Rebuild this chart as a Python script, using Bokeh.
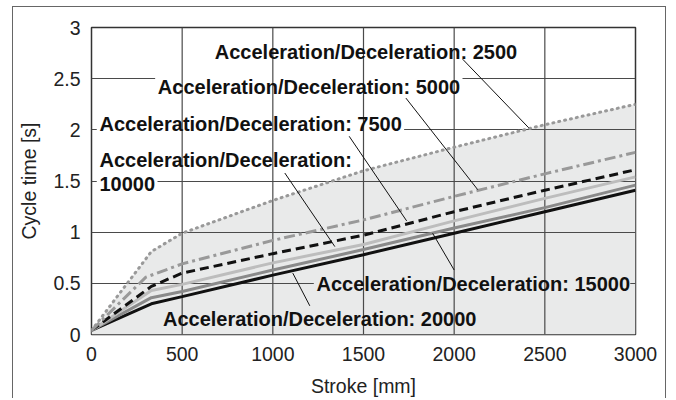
from bokeh.plotting import figure
from bokeh.models import Range1d, FixedTicker
from bokeh.core.properties import value
from bokeh.embed import file_html
from bokeh.resources import INLINE

# ---- data ----
x_ticks = [0, 500, 1000, 1500, 2000, 2500, 3000]
x_tick_labels = ["0", "500", "1000", "1500", "2000", "2500", "3000"]
y_ticks = [0, 0.5, 1, 1.5, 2, 2.5, 3]
y_tick_labels = ["0", "0.5", "1", "1.5", "2", "2.5", "3"]

stroke_2500 = [0, 330, 500, 1000, 1500, 2000, 2500, 3000]
time_2500 = [0.04, 0.81, 0.99, 1.31, 1.60, 1.83, 2.05, 2.25]

stroke_5000 = [0, 300, 500, 1000, 1500, 2000, 2500, 3000]
time_5000 = [0.04, 0.56, 0.69, 0.92, 1.12, 1.35, 1.57, 1.78]

stroke_7500 = [0, 330, 500, 1000, 1500, 2000, 2500, 3000]
time_7500 = [0.04, 0.47, 0.60, 0.79, 0.97, 1.20, 1.41, 1.61]

stroke_10000 = [0, 330, 500, 1000, 1500, 2000, 2500, 3000]
time_10000 = [0.04, 0.43, 0.49, 0.70, 0.88, 1.11, 1.33, 1.54]

stroke_15000 = [0, 330, 500, 1000, 1500, 2000, 2500, 3000]
time_15000 = [0.04, 0.36, 0.42, 0.63, 0.83, 1.04, 1.24, 1.46]

stroke_20000 = [0, 330, 500, 1000, 1500, 2000, 2500, 3000]
time_20000 = [0.04, 0.30, 0.37, 0.58, 0.78, 0.99, 1.20, 1.41]

label_prefix = "Acceleration/Deceleration: "

FONT = "Liberation Sans"
FILL = "#e9eaea"
GRID = "#4a4a4a"

p = figure(width=654, height=392, output_backend="svg", toolbar_location=None,
           x_range=Range1d(0, 3000), y_range=Range1d(0, 3),
           min_border_left=78, min_border_right=32, min_border_top=20, min_border_bottom=60)
p.styles = {"margin-left": "12px", "margin-top": "6px",
            "border-top": "1.5px solid #666",
            "border-left": "1.5px solid #666", "border-right": "1.5px solid #666"}

p.background_fill_color = "white"
p.outline_line_color = "#333"
p.outline_line_width = 1.5

# axes
for ax in (p.xaxis[0], p.yaxis[0]):
    ax.axis_line_color = None
    ax.major_tick_line_color = None
    ax.minor_tick_line_color = None
    ax.major_label_text_font = FONT
    ax.major_label_text_font_size = "19.5px"
    ax.major_label_text_color = "#222"
    ax.axis_label_text_font = FONT
    ax.axis_label_text_font_size = "19.5px"
    ax.axis_label_text_font_style = "normal"
    ax.axis_label_text_color = "#222"

p.xaxis.ticker = FixedTicker(ticks=x_ticks)
p.yaxis.ticker = FixedTicker(ticks=y_ticks)
p.xaxis.major_label_overrides = dict(zip(x_ticks, x_tick_labels))
p.yaxis.major_label_overrides = dict(zip(y_ticks, y_tick_labels))
p.xaxis.major_label_standoff = 6
p.yaxis.major_label_standoff = 5
p.xaxis.axis_label = "Stroke [mm]"
p.yaxis.axis_label = "Cycle time [s]"
p.xaxis.axis_label_standoff = 11
p.yaxis.axis_label_standoff = 10

p.xgrid.grid_line_color = None
p.ygrid.ticker = FixedTicker(ticks=y_ticks)
p.ygrid.grid_line_color = GRID
p.ygrid.grid_line_width = 1.2

# grey area under the slowest curve
p.varea(x=stroke_2500, y1=0, y2=time_2500, fill_color=FILL, level="image")

# labels: (text, x, baseline y, background, approx. width in stroke units)
labels = [
    (label_prefix + "2500", 680, 2.706, "white", 1665),
    (label_prefix + "5000", 366, 2.356, "white", 1665),
    (label_prefix + "7500", 44, 2.0, "white", 1665),
    (label_prefix.strip(), 44, 1.65, "white", 1385),
    ("10000", 44, 1.415, "white", 305),
    (label_prefix + "15000", 1241, 0.431, FILL, 1715),
    (label_prefix + "20000", 394, 0.09, FILL, 1715),
]
LABEL_SIZE = "20px"

# label backgrounds (hide horizontal grid lines behind the texts)
p.quad(left=[l[1] - 15 for l in labels], right=[l[1] + l[4] + 15 for l in labels],
       bottom=[l[2] - 0.045 for l in labels], top=[l[2] + 0.16 for l in labels],
       fill_color=[l[3] for l in labels], line_color=None)

# vertical grid lines (above label backgrounds, below label text)
p.segment(x0=x_ticks[1:-1], y0=[0] * 5, x1=x_ticks[1:-1], y1=[3] * 5,
          line_color=GRID, line_width=1.2)

# curves
p.line(stroke_20000, time_20000, line_color="#111111", line_width=3)
p.line(stroke_15000, time_15000, line_color="#8a8a8a", line_width=3)
p.line(stroke_10000, time_10000, line_color="#bdbdbd", line_width=3)
p.line(stroke_7500, time_7500, line_color="#111111", line_width=3, line_dash="9 5")
p.line(stroke_5000, time_5000, line_color="#999999", line_width=3, line_dash="11 4 3 4")
p.line(stroke_2500, time_2500, line_color="#999999", line_width=3, line_dash="1 5",
       line_cap="round")

# leader lines
leaders_x0 = [2047, 1734, 1421, 1066, 2000, 1204]
leaders_y0 = [2.69, 2.31, 1.937, 1.578, 0.63, 0.28]
leaders_x1 = [2411, 2130, 1738, 1342, 1881, 1110]
leaders_y1 = [2.02, 1.415, 1.11, 0.859, 0.99, 0.60]
p.segment(x0=leaders_x0, y0=leaders_y0, x1=leaders_x1, y1=leaders_y1,
          line_color="#111", line_width=1)

# label text
for t, lx, ly, bg, w in labels:
    p.text(x=[lx], y=[ly], text=[t], text_font=value(FONT), text_font_size=LABEL_SIZE,
           text_font_style="bold", text_color="#111", text_baseline="alphabetic",
           y_offset=-6)

open("out.html", "w").write(file_html(p, INLINE))
